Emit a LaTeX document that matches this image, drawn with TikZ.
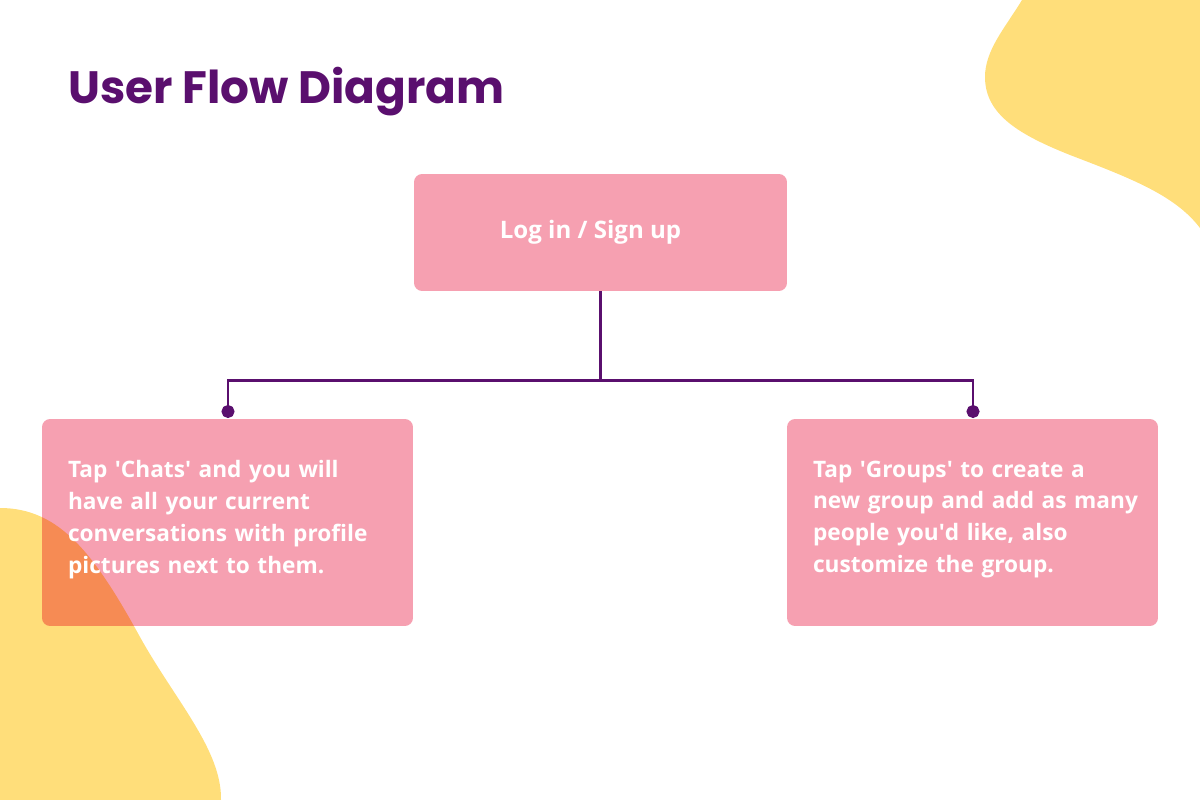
\documentclass[tikz,border=0pt]{standalone}
\usepackage{fontspec}
\setmainfont{Open Sans}
\newfontfamily\titlefont{Poppins}
\usetikzlibrary{arrows.meta, positioning}
\definecolor{flowpink}{HTML}{F6A0B1}
\definecolor{flowyellow}{HTML}{FFDE7A}
\definecolor{flowpurple}{HTML}{5A0F6E}

\begin{document}
\begin{tikzpicture}[x=0.02cm, y=-0.02cm,
    box/.style={rectangle, rounded corners=0.16cm, preaction={fill=flowpink, blend mode=multiply}, text=white, font=\bfseries\fontsize{12.9}{18.2}\selectfont},
    step box/.style={box, minimum width=7.42cm, minimum height=4.14cm, text width=6.38cm, inner xsep=0.52cm, align=left},
    link/.style={draw=flowpurple, line width=1.4pt, -{Circle[length=0.26cm]}}
]
\useasboundingbox (0,0) rectangle (1200,800);

% Background blobs
\fill[flowyellow] (1022,0) .. controls (1005,28) and (985,50) .. (985,77)
    .. controls (985,115) and (1020,135) .. (1070,155)
    .. controls (1130,178) and (1175,195) .. (1200,228) -- (1200,0) -- cycle;
\fill[flowyellow] (0,508) .. controls (60,508) and (95,555) .. (140,637)
    .. controls (175,700) and (222,750) .. (221,800) -- (0,800) -- cycle;

% Title
\node[font=\titlefont\bfseries\fontsize{25.8}{30}\selectfont, text=flowpurple, anchor=base west] (title) at (62,104) {User Flow Diagram};

% Steps
\node[box, minimum width=7.46cm, minimum height=2.34cm, font=\bfseries\fontsize{13.7}{16}\selectfont] (login) at (600.5,232.5) {Log in / Sign up\hspace*{0.4cm}};
\node[step box] (chats) at (227.5,522.5) {Tap \textquotesingle Chats\textquotesingle{} and you will\\have all your current\\conversations with profile\\pictures next to them.\vspace*{0.12cm}};
\node[step box] (groups) at (972.5,522.5) {Tap \textquotesingle Groups\textquotesingle{} to create a\\\mbox{new group and add as many}\\people you\textquotesingle d like, also\\customize the group.\vspace*{0.12cm}};

% Connectors
\coordinate (dotL) at (228,418);
\coordinate (dotR) at (973,418);
\draw[link] (login.south) -- ++(0,89) -| (dotL);
\draw[link] (login.south) -- ++(0,89) -| (dotR);
\end{tikzpicture}
\end{document}
